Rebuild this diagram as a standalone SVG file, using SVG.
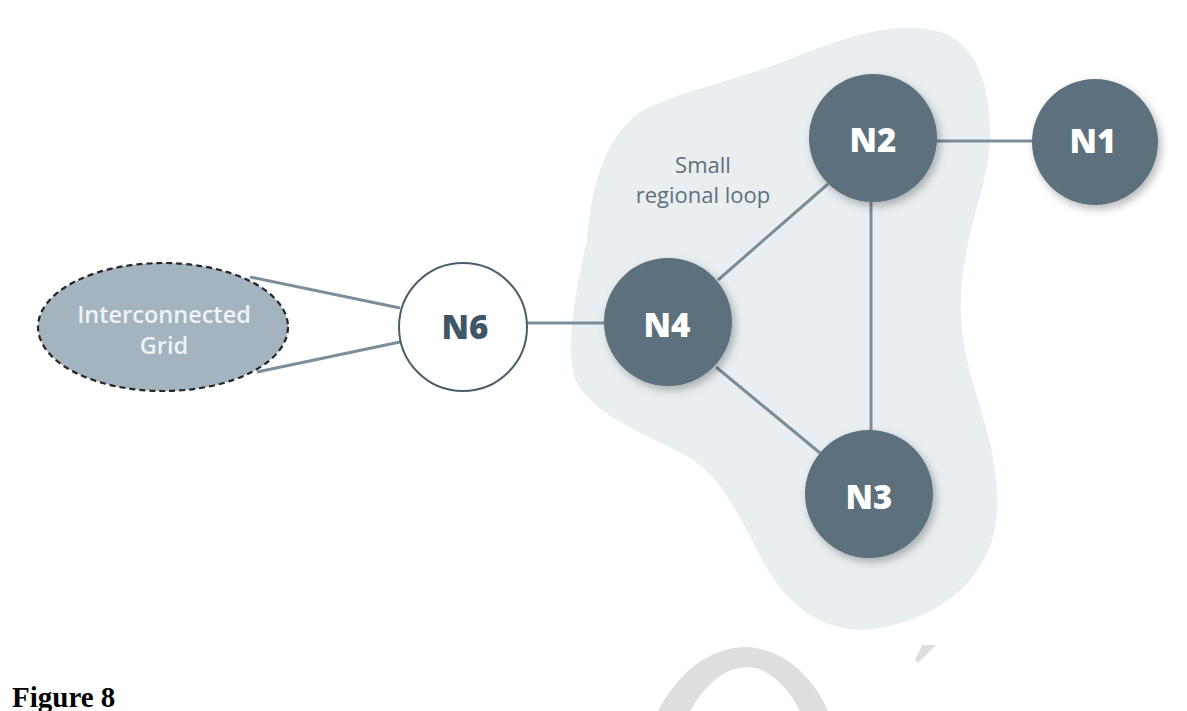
<svg xmlns="http://www.w3.org/2000/svg" width="1187" height="711" viewBox="0 0 1187 711">
<style>
.node{fill:#5b6f7d;filter:url(#sh);}
.lbl{font-family:"Open Sans","DejaVu Sans",sans-serif;font-weight:800;font-size:33px;fill:#ffffff;text-anchor:middle;}
.edge{stroke:#7b8d99;stroke-width:3;fill:none;}
.note{font-family:"Open Sans","DejaVu Sans",sans-serif;font-size:22px;fill:#5f707c;text-anchor:middle;}
.grid{font-family:"Open Sans","DejaVu Sans",sans-serif;font-size:23.5px;font-weight:600;fill:#eef2f4;text-anchor:middle;}
.wm{fill:#dedede;}
</style>
<defs>
<filter id="sh" x="-30%" y="-30%" width="160%" height="160%">
<feDropShadow dx="3" dy="4" stdDeviation="4" flood-color="#000" flood-opacity="0.28"/>
</filter>
</defs>
<rect width="1187" height="711" fill="#ffffff"/>
<g id="region">
<path d="M 587 240 C 590 200, 600 140, 640 112 C 680 90, 740 80, 800 55 C 850 35, 900 20, 940 32 C 985 45, 995 110, 988 160 C 980 210, 955 260, 962 330 C 968 390, 1000 440, 997 510 C 995 570, 950 615, 880 628 C 820 638, 785 600, 765 565 C 740 520, 725 480, 690 458 C 650 435, 600 420, 578 385 C 563 360, 575 290, 587 240 Z" fill="#e9eef0"/>
<text class="note" x="703" y="173">Small</text>
<text class="note" x="703" y="203">regional loop</text>
</g>
<g id="connectors">
<line class="edge" x1="250" y1="277" x2="400" y2="308"/>
<line class="edge" x1="257" y1="372" x2="400" y2="342"/>
<line class="edge" x1="526" y1="323" x2="606" y2="323"/>
<line class="edge" x1="718" y1="280" x2="828" y2="184"/>
<line class="edge" x1="716" y1="367" x2="820" y2="453"/>
<line class="edge" x1="871" y1="200" x2="871" y2="432"/>
<line class="edge" x1="935" y1="141" x2="1034" y2="141"/>
</g>
<g id="grid">
<ellipse cx="163" cy="327" rx="125" ry="64" fill="#a4b4be" stroke="#262626" stroke-width="2.2" stroke-dasharray="6 4"/>
<text class="grid" x="164" y="323">Interconnected</text>
<text class="grid" x="164" y="354">Grid</text>
</g>
<g id="N6">
<circle cx="463" cy="327" r="64" fill="#ffffff" stroke="#4a5d6a" stroke-width="2"/>
<text class="lbl" x="465" y="339" style="fill:#3f5666">N6</text>
</g>
<g id="N4">
<circle class="node" cx="668" cy="322" r="64"/>
<text class="lbl" x="667" y="337">N4</text>
</g>
<g id="N2">
<circle class="node" cx="873" cy="138" r="64"/>
<text class="lbl" x="873" y="152">N2</text>
</g>
<g id="N1">
<circle class="node" cx="1095" cy="142" r="63"/>
<text class="lbl" x="1093" y="153">N1</text>
</g>
<g id="N3">
<circle class="node" cx="869" cy="494" r="64"/>
<text class="lbl" x="869" y="509">N3</text>
</g>
<g id="watermark">
<path class="wm" d="M 658 711 C 680 670, 710 648, 745 647 C 785 648, 815 680, 828 711 L 800 711 C 790 690, 770 668, 748 667 C 725 667, 705 685, 690 711 Z"/>
<polygon class="wm" points="922,645 936,645 918,663 915,660"/>
</g>
<text x="12" y="707" font-family="'Liberation Serif','Times New Roman',serif" font-weight="700" font-size="29" fill="#000000">Figure 8</text>
</svg>
